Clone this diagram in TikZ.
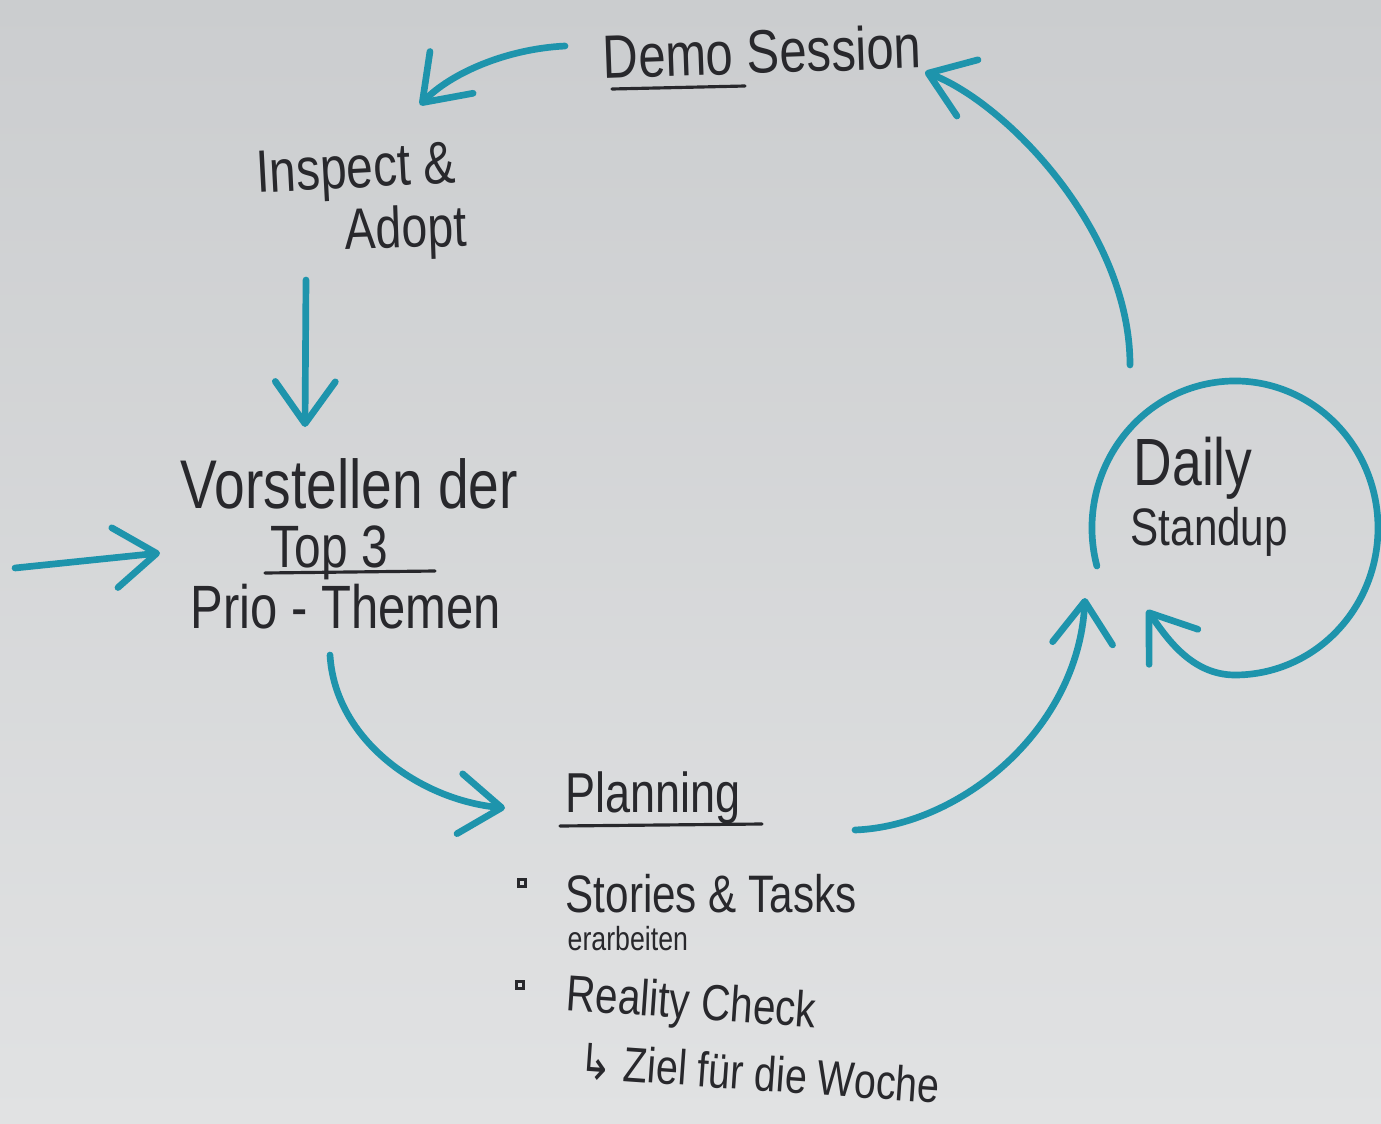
\documentclass[tikz,border=0pt]{standalone}
\usepackage{fontspec}
\setmainfont{Liberation Sans}[FakeStretch=0.8]
\newfontfamily\hookfont{DejaVu Sans}[FakeStretch=0.8]
\usetikzlibrary{arrows.meta}
\definecolor{boardtop}{RGB}{203,205,207}
\definecolor{boardbottom}{RGB}{225,226,227}
\definecolor{marker}{RGB}{30,148,172}
\definecolor{ink}{RGB}{40,40,44}
\begin{document}
\begin{tikzpicture}[
    x=0.01cm, y=0.01cm,
    handtext/.style={text=ink, inner sep=0pt, anchor=base west},
    flow/.style={draw=marker, line width=1.9pt, line cap=round, -{Straight Barb[length=4.2mm, width=6mm, round]}},
    stroke/.style={draw=ink, line width=0.9pt, line cap=round},
    bullet/.style={draw=ink, line width=0.6pt, minimum size=0.07cm, inner sep=0pt}
]
% Whiteboard
\shade[top color=boardtop, bottom color=boardbottom] (0,0) rectangle (1381,-1124);
\useasboundingbox (0,0) rectangle (1381,-1124);

% Define nodes
\node[handtext, font=\fontsize{17.4pt}{20pt}\selectfont, rotate=2] (demo) at (603,-79) {Demo Session};
\node[handtext, font=\fontsize{17pt}{20pt}\selectfont, rotate=3] (inspect) at (257,-193) {Inspect \&};
\node[handtext, font=\fontsize{16.5pt}{20pt}\selectfont, rotate=2] (adopt) at (345,-250) {Adopt};
\node[handtext, font=\fontsize{19.6pt}{22pt}\selectfont] (vorstellen) at (180,-508) {Vorstellen der};
\node[handtext, font=\fontsize{17pt}{20pt}\selectfont] (top) at (270,-567) {Top 3};
\node[handtext, font=\fontsize{17.4pt}{20pt}\selectfont] (prio) at (190,-628) {Prio - Themen};
\node[handtext, font=\fontsize{16pt}{19pt}\selectfont] (planning) at (565,-812) {Planning};
\node[handtext, font=\fontsize{15pt}{18pt}\selectfont] (stories) at (565,-912) {Stories \& Tasks};
\node[handtext, font=\fontsize{9.5pt}{11pt}\selectfont] (erarbeiten) at (567,-950) {erarbeiten};
\node[handtext, font=\fontsize{14.4pt}{17pt}\selectfont, rotate=-4] (reality) at (565,-1010) {Reality Check};
\node[handtext, font=\fontsize{14pt}{16pt}\selectfont, rotate=-4] (ziel) at (578,-1078) {{\hookfont ↳} Ziel für die Woche};
\node[handtext, font=\fontsize{19pt}{22pt}\selectfont] (daily) at (1133,-485) {Daily};
\node[handtext, font=\fontsize{15pt}{18pt}\selectfont] (standup) at (1130,-545) {Standup};
\node[bullet] (dot1) at ([shift={(-43,29)}]stories.base west) {};
\node[bullet] (dot2) at ([shift={(-45,25)}]reality.base west) {};
\coordinate (entry) at (15,-568);
\coordinate (loop) at ([shift={(102,-43)}]daily.base west);

% Underlines
\draw[stroke] ([shift={(9,-10)}]demo.base west) -- ([shift={(142,-7)}]demo.base west);
\draw[stroke] ([shift={(-5,-6)}]top.base west) -- ([shift={(165,-4)}]top.base west);
\draw[stroke] ([shift={(-5,-14)}]planning.base west) -- ([shift={(197,-12)}]planning.base west);

% Connect nodes
\draw[flow] ([shift={(-38,33)}]demo.base west) .. controls +(-60,-3) and +(30,31) .. ([shift={(163,88)}]inspect.base west);
\draw[flow] ([shift={(49,-87)}]inspect.base west) -- ([shift={(125,81)}]vorstellen.base west);
\draw[flow] (entry) -- ([shift={(-30,75)}]prio.base west);
\draw[flow] ([shift={(140,-27)}]prio.base west) .. controls +(5,-85) and +(-85,8) .. ([shift={(-60,4)}]planning.base west);
\draw[flow] ([shift={(290,-18)}]planning.base west) .. controls +(105,4) and +(-7,-132) .. ([shift={(-45,-53)}]standup.base west);
\draw[flow] ([shift={(-3,120)}]daily.base west) .. controls +(0,135) and +(80,-30) .. ([shift={(322,7)}]demo.base west);
\draw[flow] ([shift={(195:143 and 147)}]loop) arc[start angle=195, end angle=-90, x radius=143, y radius=147]
    .. controls +(-45,0) and +(18,-25) .. ([shift={(17,-65)}]standup.base west);
\end{tikzpicture}
\end{document}
